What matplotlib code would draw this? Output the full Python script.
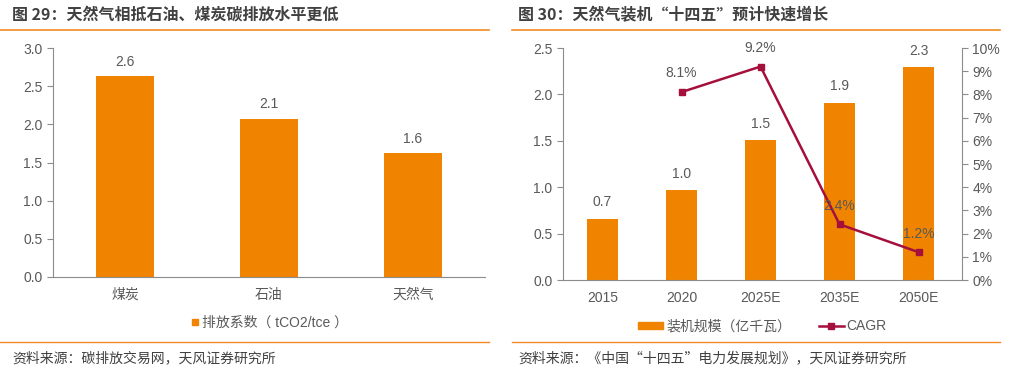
import matplotlib.pyplot as plt
from matplotlib.lines import Line2D
from matplotlib.patches import Patch

plt.rcParams['font.family'] = ['Liberation Sans', 'Noto Sans CJK SC', 'DejaVu Sans']
cjk = ['Noto Sans CJK SC', 'DejaVu Sans']

# left chart data
fuels = ["煤炭", "石油", "天然气"]
emission = [2.63, 2.07, 1.62]
emission_labels = ["2.6", "2.1", "1.6"]

# right chart data
years = ["2015", "2020", "2025E", "2035E", "2050E"]
capacity = [0.66, 0.97, 1.51, 1.91, 2.29]
capacity_labels = ["0.7", "1.0", "1.5", "1.9", "2.3"]
cagr_years = ["2020", "2025E", "2035E", "2050E"]
cagr = [8.1, 9.2, 2.4, 1.2]

W, H = 1015, 370
orange = "#F08300"
red = "#A50F3C"
grey = "#595959"
spine_c = "#8C8C8C"
line_c = "#F08A24"
fs = 10

fig = plt.figure(figsize=(W / 100, H / 100), dpi=100)


def px_axes(x0, y0, x1, y1):
    return fig.add_axes([x0 / W, 1 - y1 / H, (x1 - x0) / W, (y1 - y0) / H])


def style(ax):
    for s in ["top", "right"]:
        ax.spines[s].set_visible(False)
    ax.spines["left"].set_color(spine_c)
    ax.spines["bottom"].set_color(spine_c)
    ax.tick_params(axis="y", colors=spine_c, labelcolor=grey, labelsize=fs,
                   length=4, direction="out")
    ax.tick_params(axis="x", length=0, labelcolor=grey, labelsize=fs, pad=8)


# ---------------- left chart ----------------
ax1 = px_axes(53, 48, 485, 277)
xs = range(len(fuels))
ax1.bar(xs, emission, width=0.4, color=orange)
for x, v, t in zip(xs, emission, emission_labels):
    ax1.text(x, v + 0.1, t, ha="center", va="bottom", fontsize=fs, color=grey)
ax1.set_xticks(list(xs))
ax1.set_xticklabels(fuels)
ax1.set_xlim(-0.5, 2.5)
ax1.set_ylim(0, 3.0)
ax1.set_yticks([0, 0.5, 1.0, 1.5, 2.0, 2.5, 3.0])
ax1.set_yticklabels(["0.0", "0.5", "1.0", "1.5", "2.0", "2.5", "3.0"])
style(ax1)
ax1.legend(handles=[Line2D([], [], marker="s", color=orange, linestyle="none", markersize=5)],
           labels=["排放系数（ tCO2/tce ）"], loc="center", bbox_to_anchor=(0.5, -0.2),
           frameon=False, fontsize=fs, labelcolor=grey, handletextpad=0.1,
           handlelength=0.8)

# ---------------- right chart ----------------
ax2 = px_axes(563, 48, 962, 280)
xs2 = list(range(len(years)))
ax2.bar(xs2, capacity, width=0.4, color=orange)
for x, v, t in zip(xs2, capacity, capacity_labels):
    ax2.text(x, v + 0.1, t, ha="center", va="bottom", fontsize=fs, color=grey)
ax2.set_xticks(xs2)
ax2.set_xticklabels(years)
ax2.set_xlim(-0.5, 4.55)
ax2.set_ylim(0, 2.5)
ax2.set_yticks([0, 0.5, 1.0, 1.5, 2.0, 2.5])
ax2.set_yticklabels(["0.0", "0.5", "1.0", "1.5", "2.0", "2.5"])
style(ax2)

ax3 = ax2.twinx()
cx = [years.index(y) for y in cagr_years]
ax3.plot(cx, cagr, color=red, linewidth=1.8, marker="s", markersize=5)
for x, v in zip(cx, cagr):
    ax3.text(x, v + 0.5, f"{v}%", ha="center", va="bottom", fontsize=fs, color=grey)
ax3.set_ylim(0, 10)
ax3.set_yticks(range(0, 11))
ax3.set_yticklabels([f"{i}%" for i in range(0, 11)])
for s in ["top", "left", "bottom"]:
    ax3.spines[s].set_visible(False)
ax3.spines["right"].set_color(spine_c)
ax3.tick_params(axis="y", colors=spine_c, labelcolor=grey, labelsize=fs,
                length=4, direction="out")

ax2.legend(handles=[Patch(color=orange),
                    Line2D([], [], color=red, marker="s", markersize=4, linewidth=1.8)],
           labels=["装机规模（亿千瓦）", "CAGR"], loc="center",
           bbox_to_anchor=(0.5, -0.2), ncol=2, frameon=False, fontsize=fs,
           labelcolor=grey, handletextpad=0.2, handlelength=1.8, handleheight=0.5,
           columnspacing=2.0)

# ---------------- titles, rules, sources ----------------
fig.text(12 / W, 1 - 15 / H, "图 29：天然气相抵石油、煤炭碳排放水平更低", fontsize=11.5,
         fontweight="bold", color="#404040", va="center", family=cjk)
fig.text(518 / W, 1 - 15 / H, "图 30：天然气装机“十四五”预计快速增长", fontsize=11.5,
         fontweight="bold", color="#404040", va="center", family=cjk)
for x0, x1 in [(0, 489), (512, 1000)]:
    fig.add_artist(Line2D([x0 / W, x1 / W], [1 - 30 / H] * 2, color=line_c, linewidth=1.2))
    fig.add_artist(Line2D([x0 / W, x1 / W], [1 - 342 / H] * 2, color=line_c, linewidth=1.0))
fig.text(12 / W, 1 - 358 / H, "资料来源：碳排放交易网，天风证券研究所", fontsize=10,
         color="#404040", va="center", family=cjk)
fig.text(518 / W, 1 - 358 / H, "资料来源：《中国“十四五”电力发展规划》，天风证券研究所",
         fontsize=10, color="#404040", va="center", family=cjk)

fig.savefig("out.png", dpi=100)
